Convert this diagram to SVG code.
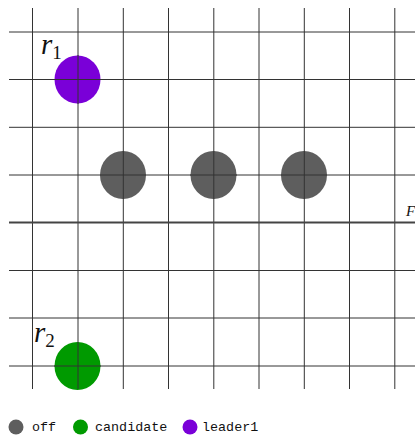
<svg xmlns="http://www.w3.org/2000/svg" width="415" height="440" viewBox="0 0 415 440">
<style>
.g{stroke:#333;stroke-width:1;fill:none}
.t{stroke:#444;stroke-width:2.2}
.lab{font-family:"Liberation Serif",serif;font-style:italic;font-size:29px;fill:#111}
.sub{font-family:"Liberation Serif",serif;font-size:19px;fill:#111}
.leg{font-family:"Liberation Mono","DejaVu Sans Mono",monospace;font-size:13.4px;fill:#111}
.off{fill:#5e5e5e}.cand{fill:#009a00}.lead{fill:#7a00d8}
</style>
<rect width="415" height="440" fill="#fff"/>
<g id="grid">
<g class="g">
<line x1="32.5" y1="8" x2="32.5" y2="389"/>
<line x1="78" y1="8" x2="78" y2="389"/>
<line x1="123.3" y1="8" x2="123.3" y2="389"/>
<line x1="168.5" y1="8" x2="168.5" y2="389"/>
<line x1="213.8" y1="8" x2="213.8" y2="389"/>
<line x1="259" y1="8" x2="259" y2="389"/>
<line x1="304.3" y1="8" x2="304.3" y2="389"/>
<line x1="349.5" y1="8" x2="349.5" y2="389"/>
<line x1="394.8" y1="8" x2="394.8" y2="389"/>
<line x1="9" y1="32" x2="415" y2="32"/>
<line x1="9" y1="79.5" x2="415" y2="79.5"/>
<line x1="9" y1="127.3" x2="415" y2="127.3"/>
<line x1="9" y1="175" x2="415" y2="175"/>
<line x1="9" y1="270.5" x2="415" y2="270.5"/>
<line x1="9" y1="318" x2="415" y2="318"/>
<line x1="9" y1="366" x2="415" y2="366"/>
</g>
<line class="t" x1="9" y1="222.5" x2="415" y2="222.5"/>
<text class="lab" x="406" y="216" style="font-size:15px">F</text>
</g>
<g id="n-r1">
<ellipse class="lead" cx="77.5" cy="79.5" rx="23" ry="24"/>
<line class="g" x1="78" y1="55" x2="78" y2="104"/>
<line class="g" x1="54" y1="79.5" x2="101" y2="79.5"/>
<text class="lab" x="41" y="54">r<tspan class="sub" font-style="normal" dy="5">1</tspan></text>
</g>
<g id="n-a">
<ellipse class="off" cx="123" cy="175" rx="23" ry="24"/>
<line class="g" x1="123.3" y1="151" x2="123.3" y2="199"/>
<line class="g" x1="100" y1="175" x2="146" y2="175"/>
</g>
<g id="n-b">
<ellipse class="off" cx="213.5" cy="175" rx="23" ry="24"/>
<line class="g" x1="213.8" y1="151" x2="213.8" y2="199"/>
<line class="g" x1="190" y1="175" x2="237" y2="175"/>
</g>
<g id="n-c">
<ellipse class="off" cx="304" cy="175" rx="23" ry="24"/>
<line class="g" x1="304.3" y1="151" x2="304.3" y2="199"/>
<line class="g" x1="281" y1="175" x2="327" y2="175"/>
</g>
<g id="n-r2">
<ellipse class="cand" cx="77.5" cy="366" rx="23" ry="24"/>
<line class="g" x1="78" y1="342" x2="78" y2="389"/>
<line class="g" x1="54" y1="366" x2="101" y2="366"/>
<text class="lab" x="34" y="342">r<tspan class="sub" font-style="normal" dy="5">2</tspan></text>
</g>
<g id="legend">
<circle class="off" cx="16" cy="427" r="7.5"/>
<text class="leg" x="32" y="431">off</text>
<circle class="cand" cx="80.5" cy="427" r="7.5"/>
<text class="leg" x="95" y="431">candidate</text>
<circle class="lead" cx="190" cy="427" r="7.5"/>
<text class="leg" x="202" y="431">leader1</text>
</g>
</svg>
